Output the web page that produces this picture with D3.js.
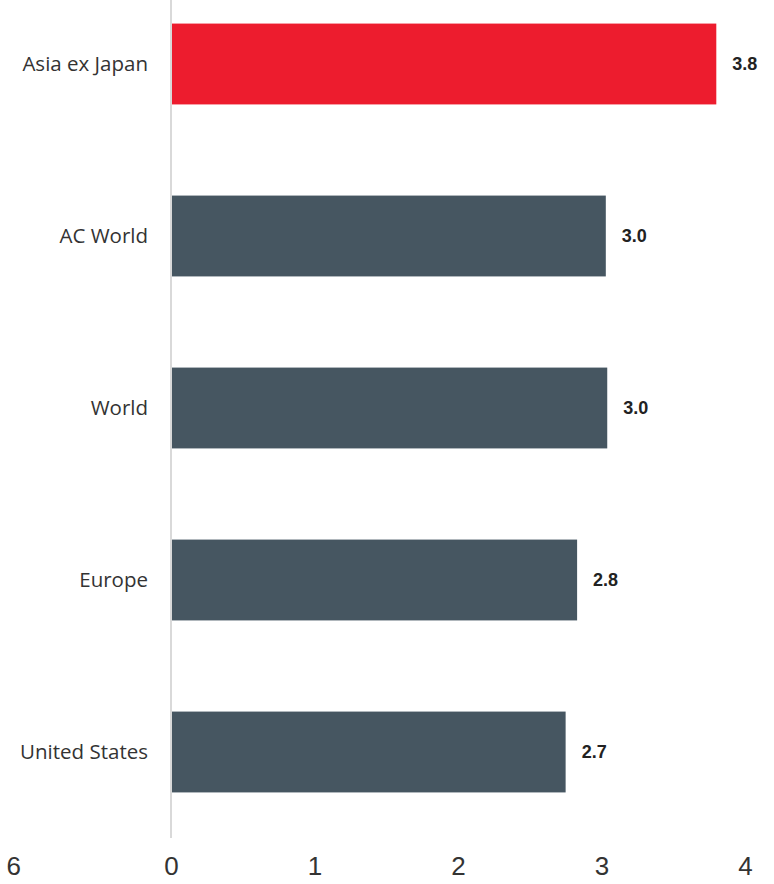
<!DOCTYPE html>
<html>
<head>
<meta charset="utf-8">
<script src="https://cdn.jsdelivr.net/npm/d3@7"></script>
<style>
  body { margin: 0; background: #fff; }
  .cat { font-family: "Open Sans", sans-serif; font-size: 20.5px; fill: #333; }
  .val { font-family: "Liberation Sans", Arial, sans-serif; font-size: 18px; font-weight: bold; fill: #222; }
  .tick text { font-family: "Liberation Sans Narrow", "Liberation Sans", sans-serif; font-size: 26px; fill: #333; }
</style>
</head>
<body>
<div id="chart"></div>
<script>
var categories = ["Asia ex Japan", "AC World", "World", "Europe", "United States"];
var values = [3.8, 3.03, 3.04, 2.83, 2.75];
var valueLabels = ["3.8", "3.0", "3.0", "2.8", "2.7"];
var tickValues = [-1.1, 0, 1, 2, 3, 4];
var tickLabels = ["6", "0", "1", "2", "3", "4"];

var svgWidth = 774;
var svgHeight = 884;

var svg = d3.select("#chart").append("svg")
  .attr("width", svgWidth)
  .attr("height", svgHeight);

var xScale = d3.scaleLinear()
  .domain([0, 4])
  .range([171, 745]);

var yScale = d3.scaleBand()
  .domain(categories)
  .range([-22, 838])
  .paddingInner(0.53)
  .paddingOuter(0.265);

// bars
svg.selectAll("rect.bar")
  .data(values)
  .enter()
  .append("rect")
  .attr("class", "bar")
  .attr("x", xScale(0))
  .attr("y", (d, i) => yScale(categories[i]))
  .attr("width", d => xScale(d) - xScale(0))
  .attr("height", yScale.bandwidth())
  .attr("fill", (d, i) => i === 0 ? "#ED1C2E" : "#465661");

// zero line
svg.append("line")
  .attr("x1", xScale(0))
  .attr("x2", xScale(0))
  .attr("y1", 0)
  .attr("y2", 838)
  .attr("stroke", "#d9d9d9")
  .attr("stroke-width", 2);

// category labels
svg.selectAll("text.cat")
  .data(categories)
  .enter()
  .append("text")
  .attr("class", "cat")
  .attr("x", 148)
  .attr("y", d => yScale(d) + yScale.bandwidth() / 2)
  .attr("dy", "0.35em")
  .attr("text-anchor", "end")
  .text(d => d);

// value labels
svg.selectAll("text.val")
  .data(values)
  .enter()
  .append("text")
  .attr("class", "val")
  .attr("x", d => xScale(d) + 16)
  .attr("y", (d, i) => yScale(categories[i]) + yScale.bandwidth() / 2)
  .attr("dy", "0.35em")
  .text((d, i) => valueLabels[i]);

// x axis
var xAxis = d3.axisBottom(xScale)
  .tickValues(tickValues)
  .tickSize(0)
  .tickPadding(0)
  .tickFormat((d, i) => tickLabels[i]);

var axisG = svg.append("g")
  .attr("transform", "translate(0, 852)")
  .call(xAxis);
axisG.select(".domain").remove();
axisG.selectAll(".tick text").attr("dy", "0.9em").attr("fill", "#333");
</script>
</body>
</html>
